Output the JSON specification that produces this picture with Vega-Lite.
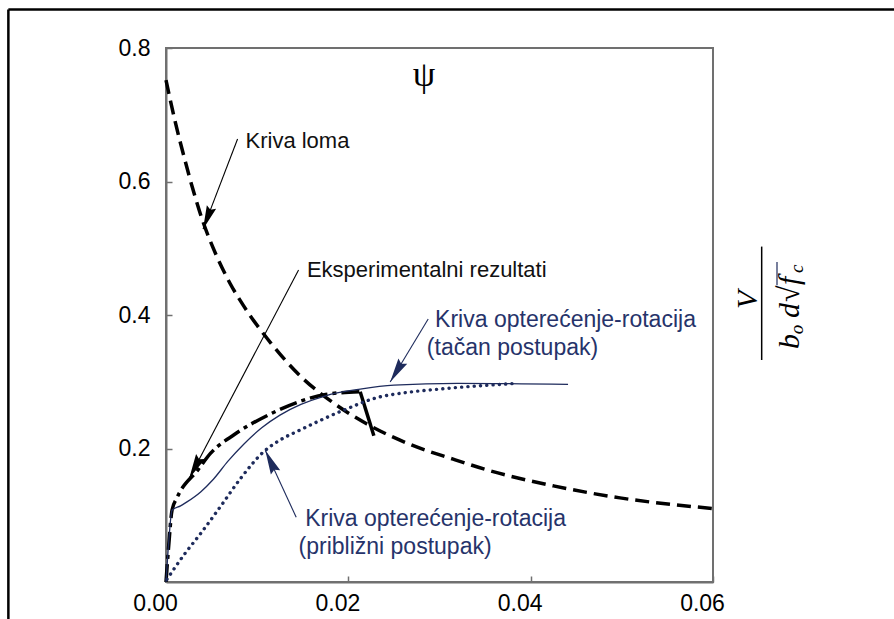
{
  "$schema": "https://vega.github.io/schema/vega-lite/v6.json",
  "width": 547,
  "height": 534,
  "autosize": {"type": "none"},
  "padding": {"left": 166, "top": 48, "right": 181, "bottom": 37},
  "background": "white",
  "config": {
    "view": {"stroke": "#707070", "strokeWidth": 2},
    "axis": {
      "labelFont": "Liberation Sans",
      "labelFontSize": 23,
      "labelColor": "#000000",
      "domainColor": "#707070",
      "domainWidth": 2,
      "tickColor": "#707070",
      "tickWidth": 1.5,
      "tickSize": -6,
      "grid": false,
      "labelFlush": false,
      "labelOverlap": false
    }
  },
  "datasets": {
    "curves": [
      {"s": "K", "x": 0, "y": 0.752}, {"s": "K", "x": 0.001, "y": 0.69}, {"s": "K", "x": 0.002, "y": 0.636},
      {"s": "K", "x": 0.003, "y": 0.586}, {"s": "K", "x": 0.004, "y": 0.542}, {"s": "K", "x": 0.0055, "y": 0.49},
      {"s": "K", "x": 0.007, "y": 0.448}, {"s": "K", "x": 0.0085, "y": 0.414}, {"s": "K", "x": 0.0115, "y": 0.358},
      {"s": "K", "x": 0.0147, "y": 0.309}, {"s": "K", "x": 0.0184, "y": 0.268}, {"s": "K", "x": 0.022, "y": 0.237},
      {"s": "K", "x": 0.0268, "y": 0.206}, {"s": "K", "x": 0.0315, "y": 0.184}, {"s": "K", "x": 0.0352, "y": 0.168},
      {"s": "K", "x": 0.0425, "y": 0.144}, {"s": "K", "x": 0.0498, "y": 0.126}, {"s": "K", "x": 0.06, "y": 0.11},
      {"s": "E", "x": 0, "y": 0}, {"s": "E", "x": 0.0003, "y": 0.055}, {"s": "E", "x": 0.00066, "y": 0.1075},
      {"s": "E", "x": 0.0012, "y": 0.126}, {"s": "E", "x": 0.0035, "y": 0.168}, {"s": "E", "x": 0.0049, "y": 0.193},
      {"s": "E", "x": 0.0075, "y": 0.221}, {"s": "E", "x": 0.0112, "y": 0.25}, {"s": "E", "x": 0.0148, "y": 0.271},
      {"s": "E", "x": 0.0175, "y": 0.281}, {"s": "E", "x": 0.0213, "y": 0.285},
      {"s": "D", "x": 0.0213, "y": 0.285}, {"s": "D", "x": 0.0228, "y": 0.219},
      {"s": "T", "x": 0, "y": 0}, {"s": "T", "x": 0.0003, "y": 0.06}, {"s": "T", "x": 0.00066, "y": 0.1075},
      {"s": "T", "x": 0.0016, "y": 0.114}, {"s": "T", "x": 0.0023, "y": 0.12}, {"s": "T", "x": 0.0038, "y": 0.135},
      {"s": "T", "x": 0.0052, "y": 0.154}, {"s": "T", "x": 0.0068, "y": 0.181}, {"s": "T", "x": 0.0085, "y": 0.206},
      {"s": "T", "x": 0.0105, "y": 0.231}, {"s": "T", "x": 0.0125, "y": 0.25}, {"s": "T", "x": 0.0148, "y": 0.266},
      {"s": "T", "x": 0.0175, "y": 0.279}, {"s": "T", "x": 0.0213, "y": 0.289}, {"s": "T", "x": 0.025, "y": 0.295},
      {"s": "T", "x": 0.032, "y": 0.2976}, {"s": "T", "x": 0.0441, "y": 0.296},
      {"s": "P", "x": 0.0001, "y": 0.004}, {"s": "P", "x": 0.0021, "y": 0.043}, {"s": "P", "x": 0.0038, "y": 0.0726},
      {"s": "P", "x": 0.006, "y": 0.1135}, {"s": "P", "x": 0.0082, "y": 0.1555}, {"s": "P", "x": 0.0107, "y": 0.195},
      {"s": "P", "x": 0.0125, "y": 0.2126}, {"s": "P", "x": 0.0147, "y": 0.2276}, {"s": "P", "x": 0.0195, "y": 0.2575},
      {"s": "P", "x": 0.0235, "y": 0.2775}, {"s": "P", "x": 0.0257, "y": 0.2826}, {"s": "P", "x": 0.0308, "y": 0.29},
      {"s": "P", "x": 0.0385, "y": 0.2976}
    ],
    "leaders": [
      {"name": "loma", "x": 0.00785, "y": 0.6636, "x2": 0.00406, "y2": 0.5286},
      {"name": "eksp", "x": 0.01454, "y": 0.4675, "x2": 0.00255, "y2": 0.1555},
      {"name": "tacan", "x": 0.02876, "y": 0.394, "x2": 0.02459, "y2": 0.2995},
      {"name": "priblizni", "x": 0.01428, "y": 0.097, "x2": 0.01089, "y2": 0.1975}
    ],
    "labels": [
      {"t": "Kriva loma", "x": 0.00872, "y": 0.65},
      {"t": "Eksperimentalni rezultati", "x": 0.01546, "y": 0.457}
    ],
    "navyLabels": [
      {"t": "Kriva opterećenje-rotacija", "x": 0.02952, "y": 0.3816},
      {"t": "(tačan postupak)", "x": 0.02861, "y": 0.34},
      {"t": "Kriva opterećenje-rotacija", "x": 0.01527, "y": 0.0835},
      {"t": "(približni postupak)", "x": 0.01454, "y": 0.0426}
    ],
    "formulaMain": [
      {"t": "V", "x": 0.06479, "y": 0.409},
      {"t": "b", "x": 0.06943, "y": 0.349},
      {"t": "d", "x": 0.06943, "y": 0.3954},
      {"t": "√", "x": 0.06943, "y": 0.4194},
      {"t": "f", "x": 0.06943, "y": 0.4449}
    ],
    "formulaSub": [
      {"t": "o", "x": 0.06987, "y": 0.3713},
      {"t": "c", "x": 0.06987, "y": 0.4629}
    ],
    "frameRules": [
      {"k": "border", "x": -0.01729, "y": 0.8575, "x2": 0.1, "y2": 0.8575},
      {"k": "border", "x": -0.01729, "y": 0.8575, "x2": -0.01729, "y2": -0.1},
      {"k": "fraction", "x": 0.06534, "y": 0.3326, "x2": 0.06534, "y2": 0.5025},
      {"k": "vinculum", "x": 0.06702, "y": 0.4445, "x2": 0.06702, "y2": 0.4795}
    ]
  },
  "layer": [
    {
      "data": {"name": "curves"},
      "transform": [{"filter": "datum.s === 'K'"}],
      "mark": {"type": "line", "color": "#000000", "strokeWidth": 3.5, "strokeDash": [14, 7], "interpolate": "monotone"},
      "encoding": {
        "x": {"field": "x", "type": "quantitative", "scale": {"domain": [0, 0.06], "nice": false, "zero": false},
              "axis": {"title": null, "values": [0, 0.02, 0.04, 0.06], "format": ".2f", "labelPadding": 16, "labelOffset": -11}},
        "y": {"field": "y", "type": "quantitative", "scale": {"domain": [0, 0.8], "nice": false, "zero": false},
              "axis": {"title": null, "values": [0.2, 0.4, 0.6, 0.8], "format": ".1f", "labelPadding": 22}}
      }
    },
    {
      "data": {"name": "curves"},
      "transform": [{"filter": "datum.s === 'E'"}],
      "mark": {"type": "line", "color": "#000000", "strokeWidth": 3.5, "strokeDash": [18, 5, 4, 5], "interpolate": "monotone"},
      "encoding": {
        "x": {"field": "x", "type": "quantitative"},
        "y": {"field": "y", "type": "quantitative"}
      }
    },
    {
      "data": {"name": "curves"},
      "transform": [{"filter": "datum.s === 'D'"}],
      "mark": {"type": "line", "color": "#000000", "strokeWidth": 3.5},
      "encoding": {
        "x": {"field": "x", "type": "quantitative"},
        "y": {"field": "y", "type": "quantitative"}
      }
    },
    {
      "data": {"name": "curves"},
      "transform": [{"filter": "datum.s === 'T'"}],
      "mark": {"type": "line", "color": "#1e2b5c", "strokeWidth": 1.3, "interpolate": "monotone"},
      "encoding": {
        "x": {"field": "x", "type": "quantitative"},
        "y": {"field": "y", "type": "quantitative"}
      }
    },
    {
      "data": {"name": "curves"},
      "transform": [{"filter": "datum.s === 'P'"}],
      "mark": {"type": "line", "color": "#1e2b5c", "strokeWidth": 3.4, "strokeDash": [0.1, 6.2], "strokeCap": "round", "interpolate": "monotone"},
      "encoding": {
        "x": {"field": "x", "type": "quantitative"},
        "y": {"field": "y", "type": "quantitative"}
      }
    },
    {
      "data": {"name": "leaders"},
      "mark": {"type": "rule", "strokeWidth": 1.1},
      "encoding": {
        "x": {"field": "x", "type": "quantitative"},
        "y": {"field": "y", "type": "quantitative"},
        "x2": {"field": "x2"},
        "y2": {"field": "y2"},
        "color": {"field": "name", "type": "nominal", "legend": null,
                  "scale": {"domain": ["loma", "eksp", "tacan", "priblizni"], "range": ["#000000", "#000000", "#1e2b5c", "#1e2b5c"]}}
      }
    },
    {
      "data": {"name": "leaders"},
      "transform": [{"filter": "datum.name === 'loma'"}],
      "mark": {"type": "point", "filled": true, "opacity": 1, "color": "#000000", "size": 560, "angle": 201,
               "shape": "M0,0 L0.42,2 L0,1.75 L-0.42,2 Z"},
      "encoding": {"x": {"field": "x2", "type": "quantitative"}, "y": {"field": "y2", "type": "quantitative"}}
    },
    {
      "data": {"name": "leaders"},
      "transform": [{"filter": "datum.name === 'eksp'"}],
      "mark": {"type": "point", "filled": true, "opacity": 1, "color": "#000000", "size": 600, "angle": 207.7,
               "shape": "M0,0 L0.42,2 L0,1.75 L-0.42,2 Z"},
      "encoding": {"x": {"field": "x2", "type": "quantitative"}, "y": {"field": "y2", "type": "quantitative"}}
    },
    {
      "data": {"name": "leaders"},
      "transform": [{"filter": "datum.name === 'tacan'"}],
      "mark": {"type": "point", "filled": true, "opacity": 1, "color": "#1e2b5c", "size": 600, "angle": 211.1,
               "shape": "M0,0 L0.42,2 L0,1.75 L-0.42,2 Z"},
      "encoding": {"x": {"field": "x2", "type": "quantitative"}, "y": {"field": "y2", "type": "quantitative"}}
    },
    {
      "data": {"name": "leaders"},
      "transform": [{"filter": "datum.name === 'priblizni'"}],
      "mark": {"type": "point", "filled": true, "opacity": 1, "color": "#1e2b5c", "size": 600, "angle": 335.2,
               "shape": "M0,0 L0.42,2 L0,1.75 L-0.42,2 Z"},
      "encoding": {"x": {"field": "x2", "type": "quantitative"}, "y": {"field": "y2", "type": "quantitative"}}
    },
    {
      "data": {"name": "labels"},
      "mark": {"type": "text", "align": "left", "baseline": "alphabetic", "font": "Liberation Sans", "fontSize": 22, "color": "#111111"},
      "encoding": {
        "x": {"field": "x", "type": "quantitative"},
        "y": {"field": "y", "type": "quantitative"},
        "text": {"field": "t"}
      }
    },
    {
      "data": {"name": "navyLabels"},
      "mark": {"type": "text", "align": "left", "baseline": "alphabetic", "font": "Liberation Sans", "fontSize": 23, "color": "#26336a"},
      "encoding": {
        "x": {"field": "x", "type": "quantitative"},
        "y": {"field": "y", "type": "quantitative"},
        "text": {"field": "t"}
      }
    },
    {
      "data": {"values": [{"t": "ψ", "x": 0.0283, "y": 0.76}]},
      "mark": {"type": "text", "align": "center", "baseline": "middle", "font": "Liberation Serif", "fontSize": 36, "color": "#000000"},
      "encoding": {
        "x": {"field": "x", "type": "quantitative"},
        "y": {"field": "y", "type": "quantitative"},
        "text": {"field": "t"}
      }
    },
    {
      "data": {"name": "formulaMain"},
      "mark": {"type": "text", "align": "left", "baseline": "alphabetic", "angle": 270, "font": "Liberation Serif", "fontStyle": "italic", "fontSize": 30, "color": "#000000"},
      "encoding": {
        "x": {"field": "x", "type": "quantitative"},
        "y": {"field": "y", "type": "quantitative"},
        "text": {"field": "t"}
      }
    },
    {
      "data": {"name": "formulaSub"},
      "mark": {"type": "text", "align": "left", "baseline": "alphabetic", "angle": 270, "font": "Liberation Serif", "fontStyle": "italic", "fontSize": 19, "color": "#000000"},
      "encoding": {
        "x": {"field": "x", "type": "quantitative"},
        "y": {"field": "y", "type": "quantitative"},
        "text": {"field": "t"}
      }
    },
    {
      "data": {"name": "frameRules"},
      "mark": {"type": "rule"},
      "encoding": {
        "x": {"field": "x", "type": "quantitative"},
        "y": {"field": "y", "type": "quantitative"},
        "x2": {"field": "x2"},
        "y2": {"field": "y2"},
        "color": {"field": "k", "type": "nominal", "legend": null,
                  "scale": {"domain": ["border", "fraction", "vinculum"], "range": ["#000000", "#555555", "#000000"]}},
        "strokeWidth": {"field": "k", "type": "nominal", "legend": null,
                  "scale": {"type": "ordinal", "domain": ["border", "fraction", "vinculum"], "range": [2.5, 1.5, 1.2]}}
      }
    }
  ]
}
